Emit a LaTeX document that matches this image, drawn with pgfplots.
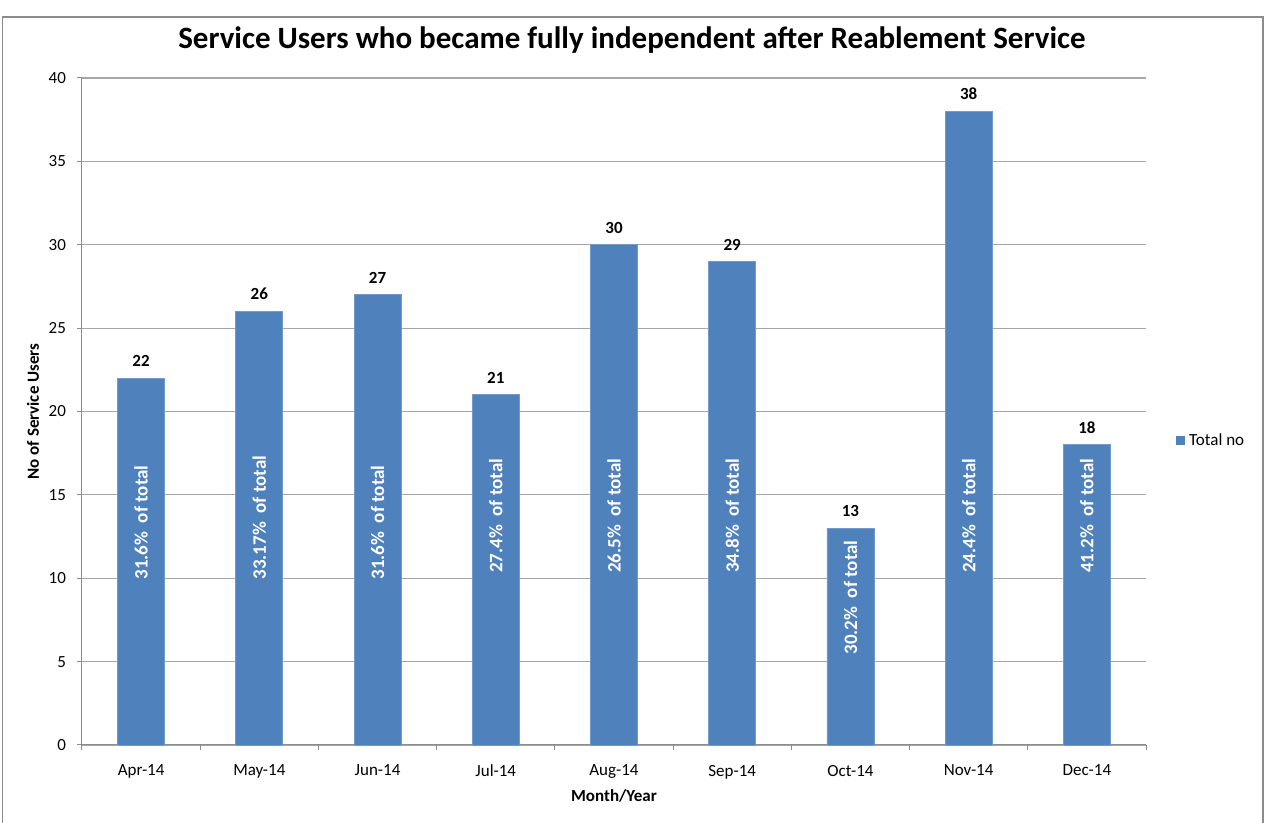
\documentclass[border=0pt]{standalone}
\usepackage{pgfplots}
\pgfplotsset{compat=1.18}
\usepackage{fontspec}
\setmainfont{Carlito}
\definecolor{barblue}{HTML}{4F81BD}
\definecolor{gridgray}{HTML}{A6A6A6}
\definecolor{axgray}{HTML}{8C8C8C}
\begin{document}
\begin{tikzpicture}
\useasboundingbox (0,0) rectangle (633pt,411.5pt);
\draw[axgray, line width=0.6pt] (1.2pt,-2pt) -- (1.2pt,403pt) -- (631.5pt,403pt) -- (631.5pt,-2pt);
\node[font=\bfseries\fontsize{15.5}{17}\selectfont] at (316pt,391.5pt) {Service Users who became fully independent after Reablement Service};
\begin{axis}[
  at={(41pt,39pt)}, anchor=south west,
  scale only axis, width=532pt, height=333.5pt,
  xmin=-0.5, xmax=8.5, ymin=0, ymax=40,
  ytick={0,5,...,40},
  xtick={0,...,8},
  xticklabels={Apr-14,May-14,Jun-14,Jul-14,Aug-14,Sep-14,Oct-14,Nov-14,Dec-14},
  minor xtick={-0.5,0.5,...,8.5},
  major x tick style={draw=none},
  minor x tick style={axgray, line width=0.5pt},
  tick align=outside,
  major tick length=2.5pt, minor tick length=2.5pt,
  y tick style={axgray, line width=0.5pt},
  axis x line*=bottom, axis y line*=left,
  axis line style={axgray, line width=0.5pt, -},
  ymajorgrids, grid style={gridgray, line width=0.6pt},
  /pgf/number format/assume math mode=true,
  ticklabel style={font=\fontsize{8.5}{10}\selectfont},
  yticklabel style={xshift=-2pt},
  xticklabel style={yshift=-4pt},
  xlabel={Month/Year}, ylabel={No of Service Users},
  label style={font=\bfseries\fontsize{8.5}{10}\selectfont},
  xlabel style={at={(axis description cs:0.5,-0.0765)}, anchor=center},
  ylabel style={at={(axis description cs:-0.046,0.5)}, anchor=center},
  legend style={at={(1.0,0.456)}, anchor=west, draw=none, fill=none, xshift=15pt,
    font=\fontsize{8.5}{10}\selectfont, inner sep=0pt,
    legend cell align=left},
  legend image code/.code={\fill[barblue] (0pt,-2pt) rectangle (4pt,2pt);},
  clip=false,
]
\addplot[ybar, bar width=23.5pt, fill=barblue, draw=barblue!80!white, line width=0.4pt,
  nodes near coords,
  every node near coord/.append style={font=\bfseries\fontsize{8.5}{10}\selectfont, anchor=south, inner sep=0pt, yshift=5.5pt, text=black}]
  coordinates {(0,22) (1,26) (2,27) (3,21) (4,30) (5,29) (6,13) (7,38) (8,18)};
\addlegendentry{Total no}
\tikzset{pct/.style={rotate=90, anchor=west, inner sep=0pt, text=white, font=\bfseries\fontsize{9.5}{11}\selectfont}}
\node[pct] at (axis cs:0,9.9) {31.6\%\ \ of total};
\node[pct] at (axis cs:1,9.9) {33.17\%\ \ of total};
\node[pct] at (axis cs:2,9.9) {31.6\%\ \ of total};
\node[pct] at (axis cs:3,10.3) {27.4\%\ \ of total};
\node[pct] at (axis cs:4,10.3) {26.5\%\ \ of total};
\node[pct] at (axis cs:5,10.3) {34.8\%\ \ of total};
\node[pct] at (axis cs:6,5.4) {30.2\%\ \ of total};
\node[pct] at (axis cs:7,10.3) {24.4\%\ \ of total};
\node[pct] at (axis cs:8,10.3) {41.2\%\ \ of total};
\end{axis}
\end{tikzpicture}
\end{document}
